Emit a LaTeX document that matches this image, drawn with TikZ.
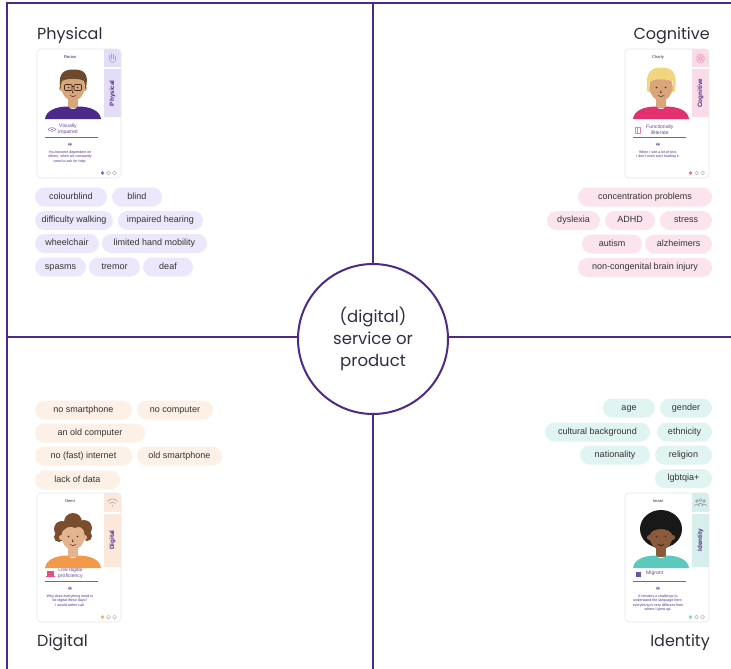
\documentclass[tikz,border=0pt]{standalone}
\usepackage{fontspec}
\setmainfont{Liberation Sans}
\newfontfamily\headfont{Poppins}
\usetikzlibrary{calc}

\definecolor{frame}{HTML}{4B2A8A}
\definecolor{titletext}{HTML}{2E2E3A}
\definecolor{pilltext}{HTML}{333333}
\definecolor{lav}{HTML}{ECE7FB}
\definecolor{pinkp}{HTML}{FCE4EE}
\definecolor{peach}{HTML}{FDF0E6}
\definecolor{teal}{HTML}{E0F4F2}
\definecolor{lavtab}{HTML}{E4DDF8}
\definecolor{pinktab}{HTML}{FADCE8}
\definecolor{peachtab}{HTML}{FBE8DA}
\definecolor{tealtab}{HTML}{D6EFEC}
\definecolor{cardedge}{HTML}{E6E6EA}
\definecolor{skinA}{HTML}{D9A57A}
\definecolor{skinB}{HTML}{E4B48E}
\definecolor{skinC}{HTML}{8A5A3A}
\definecolor{hairP}{HTML}{6B4A2E}
\definecolor{hairC}{HTML}{F2D57E}
\definecolor{hairD}{HTML}{7A4E2C}
\definecolor{hairI}{HTML}{181818}
\definecolor{shirtP}{HTML}{4B2A8A}
\definecolor{shirtC}{HTML}{E3306E}
\definecolor{shirtD}{HTML}{F29A4A}
\definecolor{shirtI}{HTML}{5CC8BE}
\definecolor{featc}{HTML}{3A2A22}

\tikzset{
  pill/.style={rounded corners=9.5pt, inner sep=0pt, minimum height=19pt,
    text height=6.6pt, text depth=1.9pt,
    font=\fontsize{9}{10}\selectfont, text=pilltext},
  heading/.style={font=\headfont\fontsize{16}{19}\selectfont, text=titletext, inner sep=0pt},
  framel/.style={draw=frame, line width=2pt},
  cardline/.style={draw=cardedge, line width=0.6pt},
  striplabel/.style={rotate=90, font=\bfseries\fontsize{6.3}{7}\selectfont, text=frame, inner sep=0pt},
  cardname/.style={font=\fontsize{4}{4.6}\selectfont, text=frame!60!black, inner sep=0pt},
  trait/.style={font=\fontsize{5.1}{5.9}\selectfont, text=frame!85, inner sep=0pt, align=center},
  traitline/.style={draw=frame!75, line width=0.7pt},
  quotemark/.style={font=\bfseries\fontsize{9}{9}\selectfont, text=frame, inner sep=0pt},
  quotetext/.style={font=\fontsize{3.6}{4.4}\selectfont, text=frame, inner sep=0pt, align=center},
  dotring/.style={draw=black!30, line width=0.5pt, fill=white},
  feat/.style={draw=featc, line width=0.5pt, line cap=round},
  icon/.style={line width=0.6pt, line cap=round, line join=round},
}

% card frame, side tab, strip label, name, trait, quote and page dots
% #1 prefix, #2 tab colour, #3 strip label, #4 name, #5 dot colour,
% #6 trait, #7 quote, #8 bottom of the strip
\newcommand{\personcard}[8]{%
  \fill[white, rounded corners=4pt] (0,0) rectangle (84,129);
  \begin{scope}
    \clip[rounded corners=4pt] (0,0) rectangle (84,129);
    \fill[#2] (67,0) rectangle (84,18.5);
    \fill[#2] (67,20.5) rectangle (84,#8);
  \end{scope}
  \node[cardline, rounded corners=4pt, minimum width=84pt, minimum height=129pt,
        inner sep=0pt] (#1-card) at (42,64.5) {};
  \node[striplabel] (#1-strip) at (75.5,{(20.5+#8)/2}) {#3};
  \node[cardname] (#1-name) at (33,8) {#4};
  \node[trait, anchor=west] (#1-trait) at (21,80.5) {#6};
  \draw[traitline] (8,88.5) -- (61,88.5);
  \node[quotemark] (#1-qm) at (33,97.5) {“};
  \node[quotetext, anchor=north] (#1-quote) at (33,101.5) {#7};
  \fill[#5] (65.5,124) circle (1.9pt);
  \draw[dotring] (71.5,124) circle (1.9pt);
  \draw[dotring] (77.5,124) circle (1.9pt);
}

% shoulders and neck
\newcommand{\torso}[2]{%
  \fill[#1] (31,44) rectangle (41,59);
  \fill[#2] (8,70) .. controls (9,61) and (20,57.5) .. (31,57.5)
     .. controls (33,61) and (39,61) .. (41,57.5)
     .. controls (52,57.5) and (63,61) .. (64,70) -- cycle;
}
% ears and face
\newcommand{\face}[1]{%
  \fill[#1] (24.5,39.5) circle (2.6pt);
  \fill[#1] (47.5,39.5) circle (2.6pt);
  \fill[#1] (36,38) ellipse [x radius=11.5pt, y radius=14pt];
}
% eyes, nose and smile
\newcommand{\features}{%
  \fill[featc] (31.5,38.5) circle (0.9pt);
  \fill[featc] (40.5,38.5) circle (0.9pt);
  \draw[feat] (36,41) -- (35.5,43.5) -- (36.5,43.5);
  \draw[feat] (33,46.5) .. controls (35,48) and (37,48) .. (39,46.5);
}

\begin{document}
\begin{tikzpicture}[x=1pt, y=-1pt]
\useasboundingbox (0,0) rectangle (731,669);
\fill[white] (0,0) rectangle (731,669);

% ---------- outer frame and dividers ----------
\coordinate (fr-tl) at (7,3);
\coordinate (fr-bl) at (7,670);
\coordinate (fr-tr) at (732,3);
\coordinate (top-mid) at (373,3);
\coordinate (bot-mid) at (373,670);
\coordinate (left-mid) at (7,337);
\coordinate (right-mid) at (732,337);

\node[circle, draw=frame, line width=2pt, fill=white, minimum size=150pt,
      inner sep=0pt, align=center, text=titletext!85!frame,
      font=\headfont\fontsize{16.5}{22}\selectfont] (hub) at (373,339)
      {(digital)\\service or\\product};

\draw[framel] (fr-bl) -- (fr-tl) -- (fr-tr);
\draw[framel] (top-mid) -- (hub.north);
\draw[framel] (hub.south) -- (bot-mid);
\draw[framel] (left-mid) -- (hub.west |- left-mid);
\draw[framel] (hub.east |- right-mid) -- (right-mid);

% ---------- headings ----------
\node[heading, anchor=base west] (t-phys) at (37,40) {Physical};
\node[heading, anchor=base east] (t-cogn) at (710,40) {Cognitive};
\node[heading, anchor=base west] (t-digi) at (37,646) {Digital};
\node[heading, anchor=base east] (t-iden) at (710,646) {Identity};

% ---------- physical tags ----------
\node[pill, fill=lav, minimum width=72pt] (ph1) at (71,197) {colourblind};
\node[pill, fill=lav, minimum width=50pt] (ph2) at (137,197) {blind};
\node[pill, fill=lav, minimum width=78pt] (ph3) at (74,220.5) {difficulty walking};
\node[pill, fill=lav, minimum width=85pt] (ph4) at (160.5,220.5) {impaired hearing};
\node[pill, fill=lav, minimum width=64pt] (ph5) at (67,243.5) {wheelchair};
\node[pill, fill=lav, minimum width=105pt] (ph6) at (154.5,243.5) {limited hand mobility};
\node[pill, fill=lav, minimum width=51pt] (ph7) at (60.5,267) {spasms};
\node[pill, fill=lav, minimum width=51pt] (ph8) at (114.5,267) {tremor};
\node[pill, fill=lav, minimum width=50pt] (ph9) at (168,267) {deaf};

% ---------- cognitive tags ----------
\node[pill, fill=pinkp, minimum width=134pt] (co1) at (645,197) {concentration problems};
\node[pill, fill=pinkp, minimum width=53pt] (co2) at (573.5,220.5) {dyslexia};
\node[pill, fill=pinkp, minimum width=50pt] (co3) at (630,220.5) {ADHD};
\node[pill, fill=pinkp, minimum width=52pt] (co4) at (686,220.5) {stress};
\node[pill, fill=pinkp, minimum width=60pt] (co5) at (612,244) {autism};
\node[pill, fill=pinkp, minimum width=67pt] (co6) at (678.5,244) {alzheimers};
\node[pill, fill=pinkp, minimum width=134pt] (co7) at (645,267.5) {non-congenital brain injury};

% ---------- digital tags ----------
\node[pill, fill=peach, minimum width=97pt] (di1) at (83.5,410) {no smartphone};
\node[pill, fill=peach, minimum width=76pt] (di2) at (175,410) {no computer};
\node[pill, fill=peach, minimum width=110pt] (di3) at (90,433) {an old computer};
\node[pill, fill=peach, minimum width=97pt] (di4) at (83.5,456) {no (fast) internet};
\node[pill, fill=peach, minimum width=85pt] (di5) at (179.5,456) {old smartphone};
\node[pill, fill=peach, minimum width=85pt] (di6) at (77.5,480) {lack of data};

% ---------- identity tags ----------
\node[pill, fill=teal, minimum width=52pt] (id1) at (629,408) {age};
\node[pill, fill=teal, minimum width=52pt] (id2) at (686,408) {gender};
\node[pill, fill=teal, minimum width=105pt] (id3) at (597.5,432) {cultural background};
\node[pill, fill=teal, minimum width=55pt] (id4) at (684.5,432) {ethnicity};
\node[pill, fill=teal, minimum width=70pt] (id5) at (615,455) {nationality};
\node[pill, fill=teal, minimum width=57pt] (id6) at (683.5,455) {religion};
\node[pill, fill=teal, minimum width=57pt] (id7) at (683.5,478.5) {lgbtqia+};

% ---------- physical card ----------
\begin{scope}[shift={(37,49)}]
  \personcard{pc}{lavtab}{Physical}{Florian}{frame!70}{Visually\\impaired}
    {You become dependent on\\others, when we constantly\\need to ask for help.}{68}
  % hand icon
  \begin{scope}[icon, draw=frame!45]
    \draw (72.5,10) -- (72.5,6.5);
    \draw (74.5,10) -- (74.5,5);
    \draw (76.5,10) -- (76.5,5.5);
    \draw (78.5,11) -- (78.5,7.5);
    \draw (72.5,10) .. controls (72.5,14.5) and (78.5,14.5) .. (78.5,11);
  \end{scope}
  % eye icon
  \draw[icon, draw=frame!55] (11,80.5) .. controls (13,78) and (17,78) .. (19,80.5)
     .. controls (17,83) and (13,83) .. (11,80.5);
  \fill[frame!55] (15,80.5) circle (1pt);
  % avatar
  \torso{skinA}{shirtP}
  \face{skinA}
  \fill[hairP] (23.5,40) .. controls (20,22) and (29,20.5) .. (37,20.5)
     .. controls (46,20.5) and (53,24) .. (48.5,40) -- (47,32)
     .. controls (42,29) and (30,29) .. (25,32) -- cycle;
  \features
  \begin{scope}[draw=featc, line width=0.7pt]
    \draw[rounded corners=1pt] (27.5,35.5) rectangle (35,41.5);
    \draw[rounded corners=1pt] (37,35.5) rectangle (44.5,41.5);
    \draw (35,37.5) -- (37,37.5);
  \end{scope}
\end{scope}

% ---------- cognitive card ----------
\begin{scope}[shift={(625,49)}]
  \personcard{cc}{pinktab}{Cognitive}{Charly}{shirtC!70}{Functionally\\illiterate}
    {When I see a lot of text,\\I don't even start reading it.}{68}
  % brain icon
  \begin{scope}[icon, draw=shirtC!45]
    \foreach \a in {0,60,...,300}
      \draw ($(75.5,9.5)+(\a:2.8pt)$) circle (1.9pt);
  \end{scope}
  % book icon
  \draw[icon, draw=shirtC!60] (10.5,78) rectangle (15.5,84.5);
  \draw[icon, draw=shirtC!60] (12,78) -- (12,84.5);
  % avatar
  \torso{skinA}{shirtC}
  \face{skinA}
  \fill[hairC] (22.5,43) .. controls (19,21) and (28,18.5) .. (36,18.5)
     .. controls (45,18.5) and (54,21) .. (49.5,43) -- (47.5,43) -- (47.5,32)
     .. controls (40,30) and (31,29) .. (24.5,33) -- (24.5,43) -- cycle;
  \features
\end{scope}

% ---------- digital card ----------
\begin{scope}[shift={(37,493)}]
  \personcard{dc}{peachtab}{Digital}{Demi}{shirtD!80}{Low digital\\proficiency}
    {Why does everything need to\\be digital these days?\\I would rather call.}{74}
  % wifi icon
  \begin{scope}[icon, draw=black!35]
    \draw (70.5,8.5) .. controls (73.5,5) and (77.5,5) .. (80.5,8.5);
    \draw (72.5,10.5) .. controls (74.5,8.5) and (76.5,8.5) .. (78.5,10.5);
  \end{scope}
  \fill[black!35] (75.5,12.8) circle (0.8pt);
  % laptop icon
  \fill[shirtC!85] (10,77.5) rectangle (17,82.5);
  \fill[shirtC!85] (9,83.2) rectangle (18,84.2);
  % avatar
  \begin{scope}[shift={(0,5)}]
    \fill[hairD] (25,31) circle (8pt);
    \fill[hairD] (36,24) circle (9pt);
    \fill[hairD] (47,30) circle (8pt);
    \fill[hairD] (22,39) circle (5pt);
    \fill[hairD] (50,38) circle (5pt);
    \torso{skinB}{shirtD}
    \face{skinB}
    \fill[hairD] (24,37) .. controls (26,29) and (34,27) .. (38,30)
       .. controls (42,27) and (47,30) .. (48.5,36) -- (49,24) -- (24,24) -- cycle;
    \features
  \end{scope}
\end{scope}

% ---------- identity card ----------
\begin{scope}[shift={(625,493)}]
  \personcard{ic}{tealtab}{Identity}{Imani}{shirtI!80}{Migrant}
    {It remains a challenge to\\understand the language here,\\everything is very different from\\where I grew up.}{74}
  % people icon
  \begin{scope}[icon, draw=black!40]
    \draw (72,8) circle (1.4pt);
    \draw (75.5,7) circle (1.5pt);
    \draw (79,8) circle (1.4pt);
    \draw (69.5,13) .. controls (70,10.5) and (74,10.5) .. (74.5,13);
    \draw (73,12.5) .. controls (73.5,9.5) and (77.5,9.5) .. (78,12.5);
    \draw (76.5,13) .. controls (77,10.5) and (81,10.5) .. (81.5,13);
  \end{scope}
  % flag icon
  \fill[frame!80] (11,79) rectangle (15.5,83.5);
  % avatar
  \begin{scope}[shift={(0,5)}]
    \fill[hairI] (36,31) ellipse [x radius=21pt, y radius=19pt];
    \torso{skinC}{shirtI}
    \face{skinC}
    \fill[hairI] (24.5,37) .. controls (27,29) and (45,29) .. (47.5,37)
       -- (50,24) -- (22,24) -- cycle;
    \fill[featc] (31.5,38.5) circle (0.9pt);
    \fill[featc] (40.5,38.5) circle (0.9pt);
    \draw[feat, draw=black] (33,46.5) .. controls (35,48) and (37,48) .. (39,46.5);
  \end{scope}
\end{scope}

\end{tikzpicture}
\end{document}
